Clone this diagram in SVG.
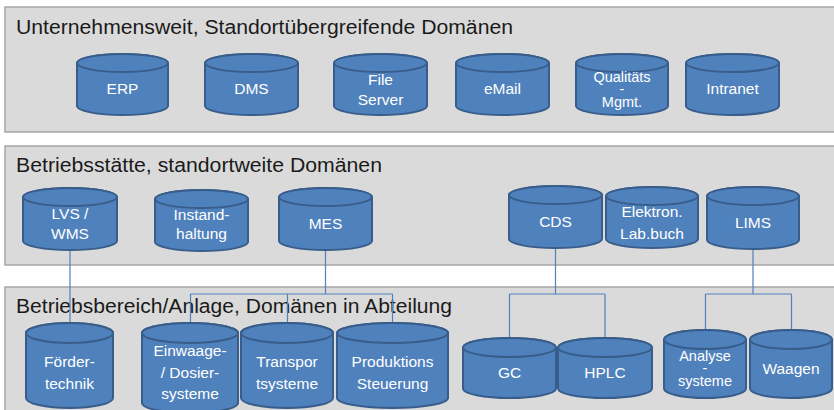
<svg xmlns="http://www.w3.org/2000/svg" width="834" height="410" viewBox="0 0 834 410">
<defs>
<style>
.band{fill:#dadada;stroke:#a6a6a6;stroke-width:1.5}
.title{font-family:"Liberation Sans",Arial,sans-serif;font-size:20px;fill:#1a1a1a}
.cyl path,.cyl ellipse{fill:#4f81bd;stroke:#385d8a;stroke-width:2}
.cyl text{font-family:"Liberation Sans",Arial,sans-serif;font-size:15.5px;fill:#ffffff;text-anchor:middle}
.cyl text.s{font-size:14.5px}
.conn{fill:none;stroke:#4f81bd;stroke-width:1.2}
</style>
</defs>
<rect width="834" height="410" fill="#ffffff"/>
<g id="band-unternehmen">
<rect class="band" x="5" y="7" width="840" height="125"/>
<text class="title" x="16" y="34" textLength="497" lengthAdjust="spacingAndGlyphs">Unternehmensweit, Standortübergreifende Domänen</text>
</g>
<g id="band-betriebsstaette">
<rect class="band" x="5" y="146" width="840" height="119"/>
<text class="title" x="16" y="172" textLength="366" lengthAdjust="spacingAndGlyphs">Betriebsstätte, standortweite Domänen</text>
</g>
<g id="band-betriebsbereich">
<rect class="band" x="5" y="287" width="840" height="140"/>
<text class="title" x="16" y="313" textLength="436" lengthAdjust="spacingAndGlyphs">Betriebsbereich/Anlage, Domänen in Abteilung</text>
</g>
<g id="connectors">
<path class="conn" d="M70 250 V323"/>
<path class="conn" d="M325.5 250 V294 M190.5 294 H392.5 M190.5 294 V323 M287.5 294 V323 M392.5 294 V323"/>
<path class="conn" d="M555.5 248 V294 M509.5 294 H605 M509.5 294 V338 M605 294 V338"/>
<path class="conn" d="M753 249 V294 M705.5 294 H791.5 M705.5 294 V330 M791.5 294 V330"/>
</g>
<g id="erp" class="cyl">
<path d="M77 63 V106 A45.5 9 0 0 0 168 106 V63 A45.5 9 0 0 0 77 63 Z"/>
<ellipse cx="122.5" cy="63" rx="45.5" ry="9"/>
<text x="122.5" y="94">ERP</text>
</g>
<g id="dms" class="cyl">
<path d="M205 63 V106 A46.5 9 0 0 0 298 106 V63 A46.5 9 0 0 0 205 63 Z"/>
<ellipse cx="251.5" cy="63" rx="46.5" ry="9"/>
<text x="251.5" y="94">DMS</text>
</g>
<g id="fileserver" class="cyl">
<path d="M334 63 V106 A46.5 9 0 0 0 427 106 V63 A46.5 9 0 0 0 334 63 Z"/>
<ellipse cx="380.5" cy="63" rx="46.5" ry="9"/>
<text x="380.5" y="85">File</text>
<text x="380.5" y="105">Server</text>
</g>
<g id="email" class="cyl">
<path d="M456 63 V106 A46.5 9 0 0 0 549 106 V63 A46.5 9 0 0 0 456 63 Z"/>
<ellipse cx="502.5" cy="63" rx="46.5" ry="9"/>
<text x="502.5" y="94">eMail</text>
</g>
<g id="qualitaet" class="cyl">
<path d="M576 63 V106 A46 9 0 0 0 668 106 V63 A46 9 0 0 0 576 63 Z"/>
<ellipse cx="622" cy="63" rx="46" ry="9"/>
<text class="s" x="622" y="82">Qualitäts</text>
<text class="s" x="622" y="94">-</text>
<text class="s" x="622" y="107">Mgmt.</text>
</g>
<g id="intranet" class="cyl">
<path d="M686 63 V106 A46.5 9 0 0 0 779 106 V63 A46.5 9 0 0 0 686 63 Z"/>
<ellipse cx="732.5" cy="63" rx="46.5" ry="9"/>
<text x="732.5" y="94">Intranet</text>
</g>
<g id="lvs" class="cyl">
<path d="M23 197 V241 A47 9 0 0 0 117 241 V197 A47 9 0 0 0 23 197 Z"/>
<ellipse cx="70" cy="197" rx="47" ry="9"/>
<text x="70" y="219">LVS /</text>
<text x="70" y="239">WMS</text>
</g>
<g id="instandhaltung" class="cyl">
<path d="M155 199 V242 A46.5 9 0 0 0 248 242 V199 A46.5 9 0 0 0 155 199 Z"/>
<ellipse cx="201.5" cy="199" rx="46.5" ry="9"/>
<text x="201.5" y="220">Instand-</text>
<text x="201.5" y="239">haltung</text>
</g>
<g id="mes" class="cyl">
<path d="M279 197 V241 A46.5 9 0 0 0 372 241 V197 A46.5 9 0 0 0 279 197 Z"/>
<ellipse cx="325.5" cy="197" rx="46.5" ry="9"/>
<text x="325.5" y="229">MES</text>
</g>
<g id="cds" class="cyl">
<path d="M509 195 V239 A46.5 9 0 0 0 602 239 V195 A46.5 9 0 0 0 509 195 Z"/>
<ellipse cx="555.5" cy="195" rx="46.5" ry="9"/>
<text x="555.5" y="227">CDS</text>
</g>
<g id="eln" class="cyl">
<path d="M606 196 V239 A46 9 0 0 0 698 239 V196 A46 9 0 0 0 606 196 Z"/>
<ellipse cx="652" cy="196" rx="46" ry="9"/>
<text x="652" y="217">Elektron.</text>
<text x="652" y="239">Lab.buch</text>
</g>
<g id="lims" class="cyl">
<path d="M707 196 V240 A46 9 0 0 0 799 240 V196 A46 9 0 0 0 707 196 Z"/>
<ellipse cx="753" cy="196" rx="46" ry="9"/>
<text x="753" y="228">LIMS</text>
</g>
<g id="foerdertechnik" class="cyl">
<path d="M26 333 V398 A43.5 10 0 0 0 113 398 V333 A43.5 10 0 0 0 26 333 Z"/>
<ellipse cx="69.5" cy="333" rx="43.5" ry="10"/>
<text x="69.5" y="367">Förder-</text>
<text x="69.5" y="389">technik</text>
</g>
<g id="einwaage" class="cyl">
<path d="M142 333 V403 A48 10 0 0 0 238 403 V333 A48 10 0 0 0 142 333 Z"/>
<ellipse cx="190" cy="333" rx="48" ry="10"/>
<text x="190" y="356">Einwaage-</text>
<text x="190" y="378">/ Dosier-</text>
<text x="190" y="399">systeme</text>
</g>
<g id="transportsysteme" class="cyl">
<path d="M241 333 V398 A46 10 0 0 0 333 398 V333 A46 10 0 0 0 241 333 Z"/>
<ellipse cx="287" cy="333" rx="46" ry="10"/>
<text x="287" y="367">Transpor</text>
<text x="287" y="389">tsysteme</text>
</g>
<g id="produktionssteuerung" class="cyl">
<path d="M337 333 V398 A55.5 10 0 0 0 448 398 V333 A55.5 10 0 0 0 337 333 Z"/>
<ellipse cx="392.5" cy="333" rx="55.5" ry="10"/>
<text x="392.5" y="367">Produktions</text>
<text x="392.5" y="389">Steuerung</text>
</g>
<g id="gc" class="cyl">
<path d="M463 347.5 V388.5 A46.5 9.5 0 0 0 556 388.5 V347.5 A46.5 9.5 0 0 0 463 347.5 Z"/>
<ellipse cx="509.5" cy="347.5" rx="46.5" ry="9.5"/>
<text x="509.5" y="378">GC</text>
</g>
<g id="hplc" class="cyl">
<path d="M558 347.5 V388.5 A47 9.5 0 0 0 652 388.5 V347.5 A47 9.5 0 0 0 558 347.5 Z"/>
<ellipse cx="605" cy="347.5" rx="47" ry="9.5"/>
<text x="605" y="378">HPLC</text>
</g>
<g id="analysesysteme" class="cyl">
<path d="M664 339.5 V388.5 A41 9.5 0 0 0 746 388.5 V339.5 A41 9.5 0 0 0 664 339.5 Z"/>
<ellipse cx="705" cy="339.5" rx="41" ry="9.5"/>
<text class="s" x="705" y="361">Analyse</text>
<text class="s" x="705" y="373">-</text>
<text class="s" x="705" y="386">systeme</text>
</g>
<g id="waagen" class="cyl">
<path d="M750 339.5 V388.5 A41 9.5 0 0 0 832 388.5 V339.5 A41 9.5 0 0 0 750 339.5 Z"/>
<ellipse cx="791" cy="339.5" rx="41" ry="9.5"/>
<text x="791" y="374">Waagen</text>
</g>
</svg>
